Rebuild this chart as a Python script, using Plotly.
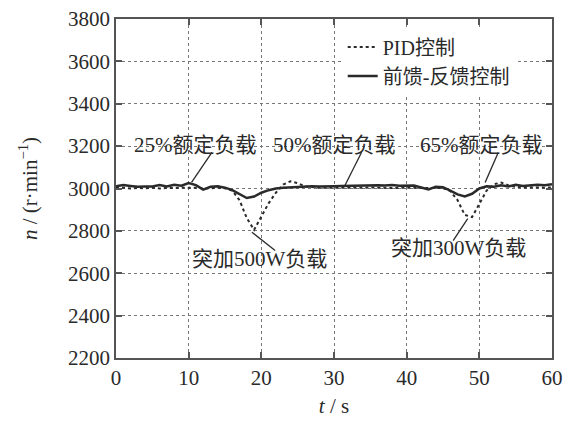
import plotly.graph_objects as go

# time axis (s)
t = [0, 1, 2, 3, 4, 5, 6, 7, 8, 9, 10, 11, 12, 13, 14, 15, 16, 17, 18, 19, 20,
     21, 22, 23, 24, 25, 26, 27, 28, 29, 30, 31, 32, 33, 34, 35, 36, 37, 38, 39, 40,
     41, 42, 43, 44, 45, 46, 47, 48, 49, 50, 51, 52, 53, 54, 55, 56, 57, 58, 59, 60]

# PID control speed (r/min)
pid = [3002, 3004, 3000, 3003, 3001, 3004, 3000, 3003, 3002, 3005, 3003, 3004, 3000, 3002, 3003, 3001,
       2990, 2945, 2860, 2805, 2870, 2930, 2980, 3018, 3034, 3025, 3010, 3005, 3003, 3004, 3002,
       3003, 3004, 3002, 3003, 3005, 3003, 3004, 3002, 3003, 3004, 3003, 3002, 3004, 3003, 3002,
       2988, 2945, 2875, 2865, 2930, 2990, 3020, 3028, 3015, 3008, 3005, 3004, 3006, 3004, 3005]

# feedforward-feedback control speed (r/min)
ff = [3010, 3016, 3012, 3008, 3010, 3009, 3016, 3010, 3018, 3013, 3026, 3016, 2995, 3008, 3010, 3004,
      2992, 2972, 2955, 2962, 2980, 2992, 3000, 3004, 3006, 3010, 3009, 3011, 3010, 3012, 3011,
      3012, 3013, 3012, 3014, 3013, 3015, 3014, 3016, 3013, 3012, 3014, 3005, 2996, 3008, 3006,
      2990, 2972, 2963, 2975, 3000, 3010, 3008, 3015, 3010, 3018, 3012, 3015, 3018, 3015, 3020]

names = ["PID控制", "前馈-反馈控制"]

# annotation labels: (text, x, y)
labels = [("25%额定负载", 10.9, 3203), ("50%额定负载", 30.0, 3203), ("65%额定负载", 50.3, 3203),
          ("突加500W负载", 19.8, 2669), ("突加300W负载", 47.1, 2717)]
# leader lines: (x0, y0, x1, y1)
leaders = [(13.2, 3171, 10.4, 3029), (33.8, 3171, 31.5, 3014), (52.6, 3170, 50.8, 3028),
           (18.7, 2794, 21.9, 2707), (48.4, 2858, 46.4, 2754)]

xticks = [0, 10, 20, 30, 40, 50, 60]
yticks = [2200, 2400, 2600, 2800, 3000, 3200, 3400, 3600, 3800]

FONT = "Liberation Serif, Times New Roman, Noto Sans CJK SC, serif"
INK = "#2a2a2a"

fig = go.Figure()
fig.add_trace(go.Scatter(x=t, y=pid, mode="lines", name=names[0],
                         line=dict(color=INK, width=2, dash="dot")))
fig.add_trace(go.Scatter(x=t, y=ff, mode="lines", name=names[1],
                         line=dict(color=INK, width=2.5)))

for txt, x, y in labels:
    fig.add_annotation(x=x, y=y, text=txt, showarrow=False,
                       font=dict(family=FONT, size=21, color=INK))
for x0, y0, x1, y1 in leaders:
    fig.add_shape(type="line", x0=x0, y0=y0, x1=x1, y1=y1, xref="x", yref="y",
                  line=dict(color=INK, width=1.3))

axis_common = dict(showline=True, linecolor="#555", linewidth=1.5, mirror="ticks",
                   ticks="inside", ticklen=6, tickcolor="#555", tickwidth=1.5,
                   showgrid=True, gridcolor="#777", griddash="dot", gridwidth=1,
                   zeroline=False, automargin=False, ticklabeloverflow="allow",
                   tickfont=dict(family=FONT, size=21, color=INK))

fig.update_xaxes(range=[0, 60], tickvals=xticks, **axis_common,
                 title=dict(text="<i>t</i> / s", font=dict(family=FONT, size=21, color=INK), standoff=9))
fig.update_yaxes(range=[2200, 3800], tickvals=yticks, **axis_common,
                 title=dict(text="<i>n</i> / (r·min<sup>−1</sup>)", font=dict(family=FONT, size=21, color=INK), standoff=25))

# page body has an 8px default margin, so the figure is sized/offset to compensate
fig.update_layout(
    width=570, height=415,
    margin=dict(l=108, r=26, t=11, b=65),
    paper_bgcolor="white", plot_bgcolor="white",
    showlegend=True,
    legend=dict(x=0.52, y=0.975, xanchor="left", yanchor="top", bgcolor="white",
                font=dict(family=FONT, size=20, color=INK), tracegroupgap=0, itemwidth=30),
)

fig.write_html("out.html")
